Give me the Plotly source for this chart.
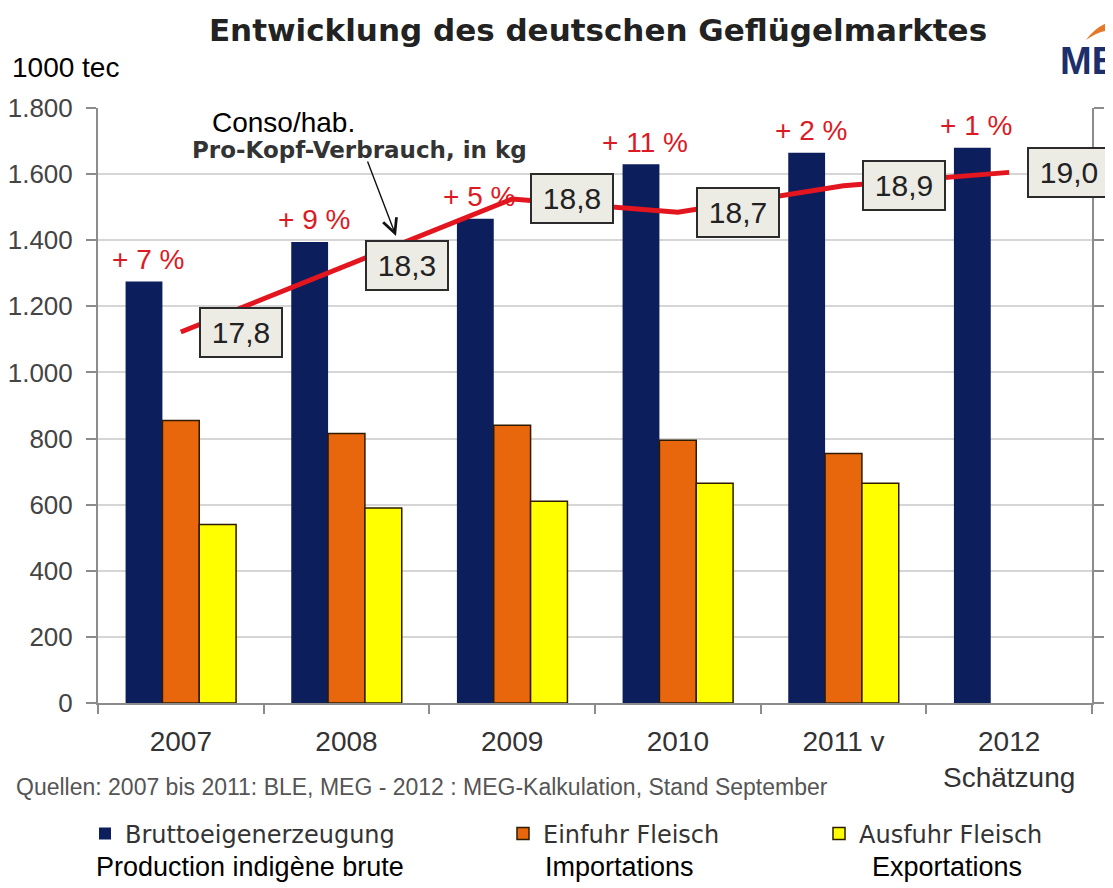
import plotly.graph_objects as go

# ---------------- data ----------------
years = ["2007", "2008", "2009", "2010", "2011 v", "2012<br>Schätzung"]
production = [1275, 1395, 1465, 1630, 1665, 1680]   # Bruttoeigenerzeugung
imports = [855, 815, 840, 795, 755, None]           # Einfuhr Fleisch
exports = [540, 590, 610, 665, 665, None]           # Ausfuhr Fleisch
consumption = [17.8, 18.3, 18.8, 18.7, 18.9, 19.0]  # Pro-Kopf-Verbrauch, kg
growth = ["+ 7 %", "+ 9 %", "+ 5 %", "+ 11 %", "+ 2 %", "+ 1 %"]
y_ticks = [0, 200, 400, 600, 800, 1000, 1200, 1400, 1600, 1800]

# ---------------- layout helpers ----------------
OFF = 8                      # page body margin of the browser
W, H = 1113 - OFF, 888 - OFF
ML, MR, MT, MB = 90, 21, 100, 185
PW, PH = W - ML - MR, H - MT - MB


def px(xp):                  # reference pixel -> paper x
    return (xp - OFF - ML) / PW


def py(yp):                  # reference pixel -> paper y
    return (H - MB - (yp - OFF)) / PH


def cx(xp):                  # reference pixel -> container x
    return (xp - OFF) / W


def cy(yp):                  # reference pixel -> container y
    return 1 - (yp - OFF) / H


NAVY = "#0c1e5b"
ORANGE = "#e8660c"
YELLOW = "#ffff00"
EDGE = "#2e1c00"
RED = "#dc1a24"
ARIAL = "Liberation Sans, Arial, sans-serif"
DEJAVU = "DejaVu Sans, sans-serif"

fig = go.Figure()
fig.add_trace(go.Bar(x=years, y=production, name="Bruttoeigenerzeugung",
                     marker=dict(color=NAVY, line=dict(width=0)), legend="legend"))
fig.add_trace(go.Bar(x=years, y=imports, name="Einfuhr Fleisch",
                     marker=dict(color=ORANGE, line=dict(color=EDGE, width=1.5)), legend="legend2"))
fig.add_trace(go.Bar(x=years, y=exports, name="Ausfuhr Fleisch",
                     marker=dict(color=YELLOW, line=dict(color=EDGE, width=1.5)), legend="legend3"))
fig.add_trace(go.Scatter(x=years, y=consumption, yaxis="y2", mode="lines",
                         line=dict(color="#e3161f", width=5), showlegend=False,
                         hoverinfo="skip"))

annotations = []
# growth percentages above production bars (x given as category index)
for i, (v, t) in enumerate(zip(production, growth)):
    annotations.append(dict(x=i, y=v, xref="x", yref="y", text=t, showarrow=False,
                            xshift=-33, yshift=22, yanchor="middle",
                            font=dict(family=ARIAL, size=28, color=RED)))
# per-capita consumption labels
for i, c in enumerate(consumption):
    annotations.append(dict(x=i, y=c, xref="x", yref="y2",
                            text=f"{c:.1f}".replace(".", ","), showarrow=False,
                            xshift=60, yanchor="middle", xanchor="center",
                            bgcolor="#ecebe4", bordercolor="#2b2b2b", borderwidth=2,
                            borderpad=7, width=66,
                            font=dict(family=ARIAL, size=30, color="#222222")))

# unit label
annotations.append(dict(x=px(10), y=py(67), xref="paper", yref="paper", text="1000 tec",
                        showarrow=False, xanchor="left", yanchor="middle",
                        font=dict(family=ARIAL, size=28, color="#000000")))
# Conso / hab.
annotations.append(dict(x=px(283), y=py(122), xref="paper", yref="paper", text="Conso/hab.",
                        showarrow=False, xanchor="center", yanchor="middle",
                        font=dict(family=ARIAL, size=28, color="#000000")))
annotations.append(dict(x=px(359), y=py(150), xref="paper", yref="paper",
                        text="<b>Pro-Kopf-Verbrauch, in kg</b>",
                        showarrow=False, xanchor="center", yanchor="middle",
                        font=dict(family=DEJAVU, size=23, color="#333333")))
# arrow
annotations.append(dict(x=px(396), y=py(236), xref="paper", yref="paper", text="",
                        showarrow=True, ax=-29, ay=-76, arrowhead=5, arrowsize=2,
                        arrowwidth=1.4, arrowcolor="#111111"))
# source line
annotations.append(dict(x=px(14), y=py(787), xref="paper", yref="paper",
                        text="Quellen: 2007 bis 2011: BLE, MEG - 2012 : MEG-Kalkulation, Stand September",
                        showarrow=False, xanchor="left", yanchor="middle",
                        font=dict(family=ARIAL, size=23, color="#555555")))
# French legend translations
for txt, cxp in [("Production indigène brute", 250), ("Importations", 619), ("Exportations", 947)]:
    annotations.append(dict(x=px(cxp), y=py(867), xref="paper", yref="paper", text=txt,
                            showarrow=False, xanchor="center", yanchor="middle",
                            font=dict(family=ARIAL, size=27, color="#000000")))
# logo text (cut at the page edge, as in the reference)
annotations.append(dict(x=px(1058), y=py(61), xref="paper", yref="paper", text="<b>MEG</b>",
                        showarrow=False, xanchor="left", yanchor="middle",
                        font=dict(family=ARIAL, size=38, color="#1d2f6b")))

# orange swoosh of the logo
sw = [(1086, 40), (1097, 25), (1113, 21), (1113, 30), (1100, 30), (1086, 40)]
swoosh_path = (f"M {px(sw[0][0])},{py(sw[0][1])} Q {px(sw[1][0])},{py(sw[1][1])} {px(sw[2][0])},{py(sw[2][1])} "
               f"L {px(sw[3][0])},{py(sw[3][1])} Q {px(sw[4][0])},{py(sw[4][1])} {px(sw[5][0])},{py(sw[5][1])} Z")
shapes = [dict(type="path", xref="paper", yref="paper", path=swoosh_path,
               fillcolor="#e27a2a", line=dict(width=0), layer="above")]

legend_common = dict(orientation="h", xanchor="left", yanchor="middle",
                     xref="container", yref="container",
                     bgcolor="rgba(0,0,0,0)", borderwidth=0,
                     font=dict(family=DEJAVU, size=24, color="#333333"))

fig.update_layout(
    width=W, height=H, autosize=False,
    margin=dict(l=ML, r=MR, t=MT, b=MB, pad=0, autoexpand=False),
    paper_bgcolor="white", plot_bgcolor="white",
    separators=",.",
    barmode="group", bargap=0.333, bargroupgap=0,
    title=dict(text="<b>Entwicklung des deutschen Geflügelmarktes</b>",
               x=(598 - OFF) / W, y=1 - (30 - OFF) / H, xanchor="center", yanchor="middle",
               font=dict(family=DEJAVU, size=31, color="#222222")),
    xaxis=dict(type="category", range=[-0.5, 5.5], autorange=False,
               showline=True, linecolor="#8c8c8c", linewidth=2,
               ticks="outside", tickson="boundaries", ticklen=9, tickwidth=2,
               tickcolor="#8c8c8c", showgrid=False, ticklabelstandoff=12,
               automargin=False,
               tickfont=dict(family=ARIAL, size=28, color="#333333")),
    yaxis=dict(range=[0, 1800], tickvals=y_ticks, tickformat=",.0f",
               showline=True, linecolor="#8c8c8c", linewidth=2, mirror="ticks",
               ticks="outside", ticklen=10, tickwidth=2, tickcolor="#8c8c8c",
               showgrid=True, gridcolor="#d6d6d6", gridwidth=2, zeroline=False,
               ticklabelstandoff=8, automargin=False,
               tickfont=dict(family=ARIAL, size=26, color="#444444")),
    yaxis2=dict(overlaying="y", range=[15.011, 19.484], visible=False),
    legend=dict(x=cx(85), y=cy(834), **legend_common),
    legend2=dict(x=cx(503), y=cy(834), **legend_common),
    legend3=dict(x=cx(819), y=cy(834), **legend_common),
    annotations=annotations,
    shapes=shapes,
    showlegend=True,
)

fig.write_html("out.html")
